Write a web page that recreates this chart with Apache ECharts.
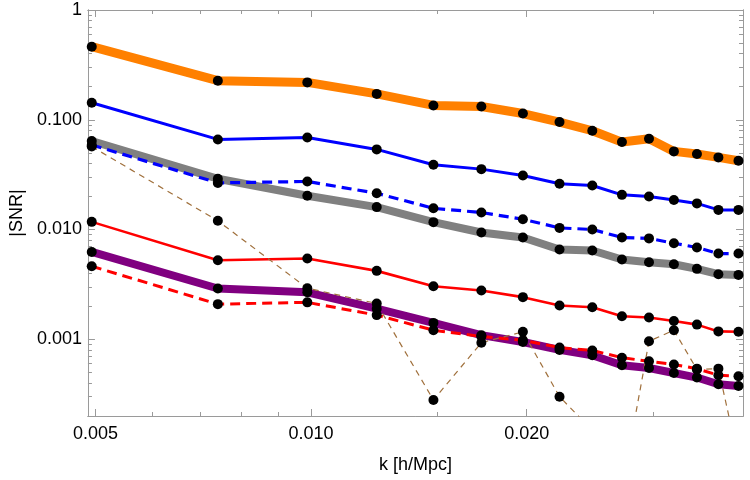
<!DOCTYPE html>
<html>
<head>
<meta charset="utf-8">
<script src="https://cdn.jsdelivr.net/npm/echarts@6.0.0/dist/echarts.min.js"></script>
<style>html,body{margin:0;padding:0;background:#fff}#chart{width:750px;height:480px}</style>
</head>
<body>
<div id="chart"></div>
<script>
// ---- data ----
const kValues = [0.00494, 0.00741, 0.00988, 0.01235, 0.01482, 0.01729, 0.01976, 0.02223, 0.0247, 0.02717, 0.02964, 0.03211, 0.03458, 0.03705, 0.03952];
const orangeThick = [0.463, 0.227, 0.219, 0.172, 0.135, 0.132, 0.114, 0.0953, 0.0794, 0.0626, 0.0671, 0.0515, 0.0487, 0.0454, 0.0423];
const blueSolid   = [0.143, 0.0662, 0.0690, 0.0537, 0.0389, 0.0355, 0.0311, 0.0261, 0.0252, 0.0207, 0.0200, 0.0186, 0.0173, 0.0151, 0.0151];
const blueDashed  = [0.059, 0.0266, 0.0274, 0.0214, 0.0156, 0.0143, 0.0124, 0.01035, 0.0100, 0.00846, 0.00830, 0.0075, 0.00686, 0.00604, 0.00604];
const grayThick   = [0.064, 0.0290, 0.0203, 0.0160, 0.01167, 0.0094, 0.00846, 0.00657, 0.00644, 0.00533, 0.00504, 0.00483, 0.00438, 0.00392, 0.00386];
const redSolid    = [0.01174, 0.00525, 0.00544, 0.00420, 0.00304, 0.00278, 0.00242, 0.00203, 0.00196, 0.00162, 0.00158, 0.00147, 0.00136, 0.00118, 0.00117];
const redDashed   = [0.00463, 0.00209, 0.00217, 0.00166, 0.00121, 0.00106, 0.00098, 0.00084, 0.00079, 0.00068, 0.00063, 0.00059, 0.00054, 0.00047, 0.00046];
const purpleThick = [0.00625, 0.00290, 0.00268, 0.00190, 0.00141, 0.00109, 0.000945, 0.00080, 0.000715, 0.00058, 0.000547, 0.000493, 0.000448, 0.000389, 0.000375];
const brownDashed = [0.057, 0.0120, 0.00292, 0.00212, 0.00028, 0.00093, 0.00117, 0.00030, 0.000148, 0.000043, 0.00096, 0.00121, 0.00053, 0.00054, 0.00008];

const xMajorTicks = [0.005, 0.01, 0.02];
const xMinorTicks = [0.006, 0.007, 0.008, 0.009, 0.015, 0.03];
const yMajorTicks = [0.001, 0.01, 0.1, 1];
const yMinorTicks = [0.0003, 0.0004, 0.0005, 0.0006, 0.0007, 0.0008, 0.0009,
  0.002, 0.003, 0.004, 0.005, 0.006, 0.007, 0.008, 0.009,
  0.02, 0.03, 0.04, 0.05, 0.06, 0.07, 0.08, 0.09,
  0.2, 0.3, 0.4, 0.5, 0.6, 0.7, 0.8, 0.9];
const yTickLabels = {"0.001": "0.001", "0.01": "0.010", "0.1": "0.100", "1": "1"};

// ---- chart ----
const X_MIN = 0.00488, X_MAX = 0.0401, Y_MIN = 0.0002, Y_MAX = 1;
const FRAME = '#9a9a9a';
const FONT = '"Liberation Sans", Arial, sans-serif';

function axisBase(min, max, pos, ticks, len) {
  return {
    type: 'log', logBase: 10, min: min, max: max, position: pos,
    axisLine: {show: true, onZero: false, lineStyle: {color: FRAME, width: 1}},
    axisTick: {show: true, inside: true, length: len, customValues: ticks, lineStyle: {color: FRAME, width: 1}},
    axisLabel: {show: false},
    splitLine: {show: false}, minorTick: {show: false}, minorSplitLine: {show: false}
  };
}

const xAxes = [
  Object.assign(axisBase(X_MIN, X_MAX, 'bottom', xMajorTicks, 7), {
    axisLabel: {show: true, customValues: xMajorTicks, margin: 9, color: '#000', fontSize: 18, fontFamily: FONT,
      formatter: v => Number(v).toFixed(3)},
    name: 'k [h/Mpc]', nameLocation: 'middle', nameGap: 40,
    nameTextStyle: {color: '#000', fontSize: 18, fontFamily: FONT}
  }),
  axisBase(X_MIN, X_MAX, 'bottom', xMinorTicks, 4),
  axisBase(X_MIN, X_MAX, 'top', xMajorTicks, 7),
  axisBase(X_MIN, X_MAX, 'top', xMinorTicks, 4)
];
const yAxes = [
  Object.assign(axisBase(Y_MIN, Y_MAX, 'left', yMajorTicks, 7), {
    axisLabel: {show: true, customValues: yMajorTicks, margin: 6, color: '#000', fontSize: 18, fontFamily: FONT,
      formatter: v => yTickLabels[String(Number(Number(v).toPrecision(3)))] || String(v)},
    name: '|SNR|', nameLocation: 'middle', nameGap: 60, nameRotate: 90,
    nameTextStyle: {color: '#000', fontSize: 18, fontFamily: FONT}
  }),
  axisBase(Y_MIN, Y_MAX, 'left', yMinorTicks, 4),
  axisBase(Y_MIN, Y_MAX, 'right', yMajorTicks, 7),
  axisBase(Y_MIN, Y_MAX, 'right', yMinorTicks, 4)
];

function pairs(arr) { return kValues.map((k, i) => [k, arr[i]]); }

const lineDefs = [
  {d: orangeThick, c: '#ff8000', w: 9, t: 'solid'},
  {d: grayThick, c: '#808080', w: 8, t: 'solid'},
  {d: purpleThick, c: '#800080', w: 8, t: 'solid'},
  {d: blueSolid, c: '#0000ff', w: 3, t: 'solid'},
  {d: redSolid, c: '#ff0000', w: 2.6, t: 'solid'},
  {d: blueDashed, c: '#0000ff', w: 3.2, t: [10, 6]},
  {d: redDashed, c: '#ff0000', w: 3, t: [10, 6]},
  {d: brownDashed, c: '#a0703c', w: 1.2, t: [6, 5]}
];

const series = [];
lineDefs.forEach((s, i) => {
  series.push({
    type: 'line', data: pairs(s.d), xAxisIndex: 0, yAxisIndex: 0,
    symbol: 'none', showSymbol: false, clip: true, z: 2 + i * 0.01,
    lineStyle: {color: s.c, width: s.w, type: s.t, cap: 'butt', join: 'round'},
    silent: true, animation: false
  });
});
lineDefs.forEach(s => {
  series.push({
    type: 'scatter', data: pairs(s.d), xAxisIndex: 0, yAxisIndex: 0,
    symbol: 'circle', symbolSize: 10, clip: true, z: 5,
    itemStyle: {color: '#000', opacity: 1}, silent: true, animation: false
  });
});

const chart = echarts.init(document.getElementById('chart'), null, {renderer: 'canvas'});
chart.setOption({
  animation: false,
  backgroundColor: '#fff',
  grid: {left: 86, top: 10, right: 7, bottom: 64, containLabel: false},
  xAxis: xAxes,
  yAxis: yAxes,
  series: series
});
</script>
</body>
</html>
